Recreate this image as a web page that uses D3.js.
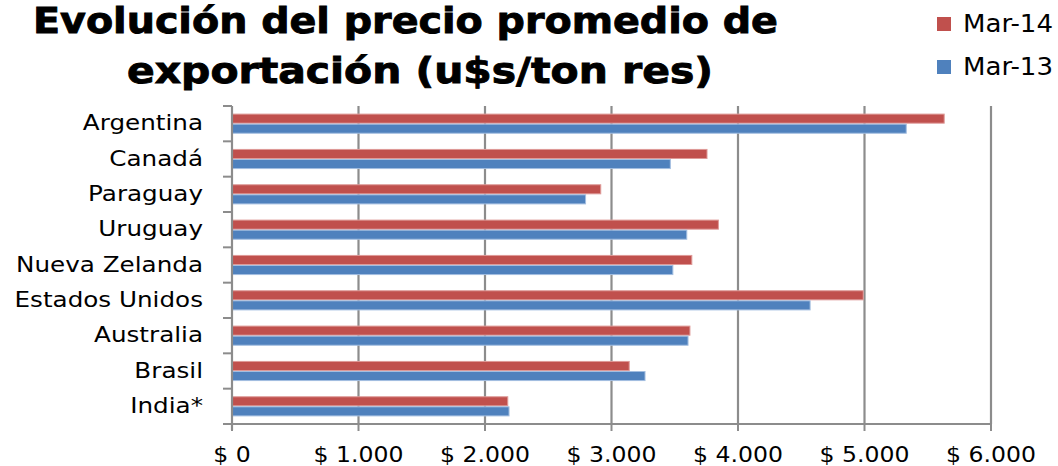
<!DOCTYPE html>
<html>
<head>
<meta charset="utf-8">
<script src="https://cdn.jsdelivr.net/npm/d3@7"></script>
<style>
  body { margin: 0; background: #fff; }
  svg { display: block; }
  text { font-family: "DejaVu Sans", Verdana, sans-serif; fill: #000; }
</style>
</head>
<body>
<script>
// data
const countries = ['Argentina', 'Canadá', 'Paraguay', 'Uruguay', 'Nueva Zelanda',
	'Estados Unidos', 'Australia', 'Brasil', 'India*'];
const mar14 = [5630, 3755, 2915, 3845, 3635, 4990, 3620, 3140, 2180];
const mar13 = [5330, 3465, 2795, 3595, 3485, 4570, 3605, 3265, 2190];
const seriesNames = ['Mar-14', 'Mar-13'];
const seriesColors = ['#C0504D', '#4F81BD'];
const seriesStroke = ['#DE9A98', '#A3BEE0'];
const xTicks = [0, 1000, 2000, 3000, 4000, 5000, 6000];

const width = 1058;
const height = 466;
const margin = { top: 106, right: 67, bottom: 42, left: 232 };

const svg = d3.select('body').append('svg')
	.attr('width', width)
	.attr('height', height);

const x = d3.scaleLinear()
	.domain([0, 6000])
	.range([margin.left, width - margin.right]);

const y = d3.scaleBand()
	.domain(countries)
	.range([margin.top, height - margin.bottom])
	.paddingInner(0.43)
	.paddingOuter(0.215);

const ySub = d3.scaleBand()
	.domain(seriesNames)
	.range([0, y.bandwidth()]);

const fmt = d => '$ ' + d3.format(',d')(d).replace(/,/g, '.');

// gridlines
svg.append('g')
	.selectAll('line')
	.data(xTicks.slice(1))
	.join('line')
	.attr('x1', d => x(d)).attr('x2', d => x(d))
	.attr('y1', margin.top).attr('y2', height - margin.bottom)
	.attr('stroke', '#8C8C8C')
	.attr('stroke-width', 2.2);

// bars
const rows = countries.map((c, i) => ({ name: c, values: [mar14[i], mar13[i]] }));

const group = svg.append('g')
	.selectAll('g')
	.data(rows)
	.join('g')
	.attr('transform', d => `translate(0,${y(d.name)})`);

group.selectAll('rect')
	.data(d => d.values.map((v, k) => ({ key: seriesNames[k], k, v })))
	.join('rect')
	.attr('x', x(0))
	.attr('y', d => ySub(d.key) + 0.5)
	.attr('width', d => x(d.v) - x(0))
	.attr('height', ySub.bandwidth() - 1)
	.attr('fill', d => seriesColors[d.k])
	.attr('stroke', d => seriesStroke[d.k])
	.attr('stroke-width', 1);

// y axis
const yAxis = svg.append('g');
yAxis.append('line')
	.attr('x1', x(0)).attr('x2', x(0))
	.attr('y1', margin.top).attr('y2', height - margin.bottom + 6)
	.attr('stroke', '#8C8C8C').attr('stroke-width', 2.2);
const bounds = countries.map(c => y(c) - y.step() * y.paddingInner() / 2);
bounds.push(height - margin.bottom);
yAxis.selectAll('line.tick')
	.data(bounds)
	.join('line')
	.attr('class', 'tick')
	.attr('x1', x(0) - 9).attr('x2', x(0))
	.attr('y1', d => d).attr('y2', d => d)
	.attr('stroke', '#8C8C8C').attr('stroke-width', 2);
yAxis.selectAll('text')
	.data(countries)
	.join('text')
	.attr('transform', d => `translate(203,${y(d) + y.bandwidth() / 2 + 6.5}) scale(1.12,1)`)
	.attr('text-anchor', 'end')
	.style('font-size', '22px')
	.text(d => d);

// x axis
const xAxis = svg.append('g');
xAxis.append('line')
	.attr('x1', x(0) - 9).attr('x2', x(6000))
	.attr('y1', height - margin.bottom).attr('y2', height - margin.bottom)
	.attr('stroke', '#8C8C8C').attr('stroke-width', 2.2);
xAxis.selectAll('line.tick')
	.data(xTicks)
	.join('line')
	.attr('class', 'tick')
	.attr('x1', d => x(d)).attr('x2', d => x(d))
	.attr('y1', height - margin.bottom).attr('y2', height - margin.bottom + 7)
	.attr('stroke', '#8C8C8C').attr('stroke-width', 2);
xAxis.selectAll('text')
	.data(xTicks)
	.join('text')
	.attr('transform', d => `translate(${x(d)},462) scale(1.07,1)`)
	.attr('text-anchor', 'middle')
	.style('font-size', '22px')
	.text(fmt);

// title
const title = svg.append('g')
	.style('font-weight', 'bold')
	.style('font-size', '36px')
	.style('stroke', '#000')
	.style('stroke-width', 0.9);
title.append('text')
	.attr('x', 33).attr('y', 33)
	.attr('textLength', 745).attr('lengthAdjust', 'spacingAndGlyphs')
	.text('Evolución del precio promedio de');
title.append('text')
	.attr('x', 127).attr('y', 83)
	.attr('textLength', 586).attr('lengthAdjust', 'spacingAndGlyphs')
	.text('exportación (u$s/ton res)');

// legend
const legend = svg.append('g')
	.selectAll('g')
	.data(seriesNames)
	.join('g')
	.attr('transform', (d, i) => `translate(937,${17 + i * 43})`);
legend.append('rect')
	.attr('width', 14).attr('height', 14)
	.attr('fill', (d, i) => seriesColors[i]);
legend.append('text')
	.attr('x', 26).attr('y', 15)
	.attr('textLength', 90).attr('lengthAdjust', 'spacingAndGlyphs')
	.style('font-size', '24px')
	.text(d => d);
</script>
</body>
</html>
